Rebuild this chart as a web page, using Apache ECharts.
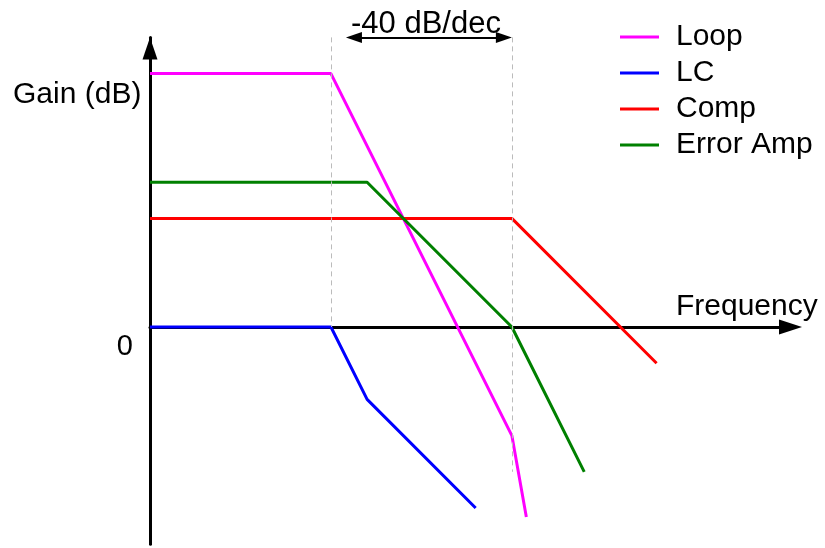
<!DOCTYPE html>
<html>
<head>
<meta charset="utf-8">
<script src="https://cdn.jsdelivr.net/npm/echarts@6/dist/echarts.min.js"></script>
<style>
html,body{margin:0;padding:0;background:#fff;}
#c{width:825px;height:548px;}
</style>
</head>
<body>
<div id="c"></div>
<script>
// Series names
const seriesNames = ['Loop', 'LC', 'Comp', 'Error Amp'];
// Frequency (decades) and gain (dB) break points for each curve
const loopX = [0, 1, 2, 2.08];
const loopY = [28, 28, -12, -21];
const lcX = [0, 1, 1.2, 1.8];
const lcY = [0, 0, -8, -20];
const compX = [0, 2, 2.8];
const compY = [12, 12, -4];
const eaX = [0, 1.2, 2, 2.4];
const eaY = [16, 16, 0, -16];
// Guide lines (x position, top, bottom)
const guideX = [1, 2];
const guideTop = [32, 32];
const guideBottom = [0, -16];
// Slope annotation span (arrow-head centres)
const slopeSpan = [1.127, 1.956];
const slopeLevel = 32;
const slopeText = '-40 dB/dec';
// Tick labels
const yTickLabels = ['0'];
const yAxisTitle = 'Gain (dB)';
const xAxisTitle = 'Frequency';

const colors = ['#FF00FF', '#0000FF', '#FF0000', '#008000'];
const FONT = "'Liberation Sans', Arial, sans-serif";

function pairs(xs, ys) { return xs.map((x, i) => [x, ys[i]]); }

const chart = echarts.init(document.getElementById('c'), null, {renderer: 'canvas'});

const lineSeries = [
  pairs(loopX, loopY), pairs(lcX, lcY), pairs(compX, compY), pairs(eaX, eaY)
].map((d, i) => ({
  name: seriesNames[i],
  type: 'line',
  data: d,
  showSymbol: false,
  symbol: 'none',
  animation: false,
  z: 3,
  lineStyle: {color: colors[i], width: 3},
  itemStyle: {color: colors[i]}
}));

const guideLines = guideX.map((x, i) => [
  {coord: [x, guideTop[i]], symbol: 'none'},
  {coord: [x, guideBottom[i]], symbol: 'none'}
]);

const guideSeries = {
  name: 'guides',
  type: 'line',
  data: [],
  z: 1,
  animation: false,
  markLine: {
    silent: true,
    animation: false,
    label: {show: false},
    symbol: ['none', 'none'],
    lineStyle: {color: '#BBBBBB', width: 1, type: [5, 4]},
    emphasis: {disabled: true},
    data: guideLines.concat([[
      {coord: [slopeSpan[0], slopeLevel], symbol: 'triangle', symbolSize: [11, 16],
        lineStyle: {color: '#000', width: 2, type: 'solid'}},
      {coord: [slopeSpan[1], slopeLevel], symbol: 'triangle', symbolSize: [11, 16]}
    ]])
  }
};

chart.setOption({
  animation: false,
  backgroundColor: '#fff',
  textStyle: {fontFamily: FONT},
  grid: {left: 150, right: 34.5, top: 37.4, bottom: 3.8, containLabel: false},
  legend: {
    data: seriesNames,
    orient: 'vertical',
    left: 615,
    top: 14,
    icon: 'rect',
    itemWidth: 39,
    itemHeight: 3,
    itemGap: 0,
    selectedMode: false,
    textStyle: {fontSize: 30, fontFamily: FONT, color: '#000', lineHeight: 36, padding: [0, 0, 0, 12]}
  },
  xAxis: {
    type: 'value',
    min: 0,
    max: 3.54,
    splitLine: {show: false},
    axisTick: {show: false},
    axisLabel: {show: false},
    axisLine: {
      onZero: true,
      lineStyle: {color: '#000', width: 3},
      symbol: ['none', 'triangle'],
      symbolSize: [15, 23]
    }
  },
  yAxis: {
    type: 'value',
    min: -24,
    max: 32,
    interval: 8,
    splitLine: {show: false},
    axisTick: {show: false},
    axisLabel: {
      show: true,
      fontSize: 29,
      fontFamily: FONT,
      color: '#000',
      margin: 17,
      verticalAlign: 'top',
      lineHeight: 40,
      formatter: v => (v === 0 ? yTickLabels[0] : '')
    },
    axisLine: {
      onZero: false,
      lineStyle: {color: '#000', width: 3},
      symbol: ['none', 'triangle'],
      symbolSize: [15, 22],
      symbolOffset: [0, -11]
    }
  },
  graphic: [
    {type: 'text', left: 13, top: 80, style: {text: yAxisTitle, fontSize: 30, fontFamily: FONT, fill: '#000'}},
    {type: 'text', left: 351, top: 9, style: {text: slopeText, fontSize: 31, fontFamily: FONT, fill: '#000'}},
    {type: 'text', left: 676, top: 292, style: {text: xAxisTitle, fontSize: 30, fontFamily: FONT, fill: '#000'}}
  ],
  series: [guideSeries].concat(lineSeries)
});
</script>
</body>
</html>
